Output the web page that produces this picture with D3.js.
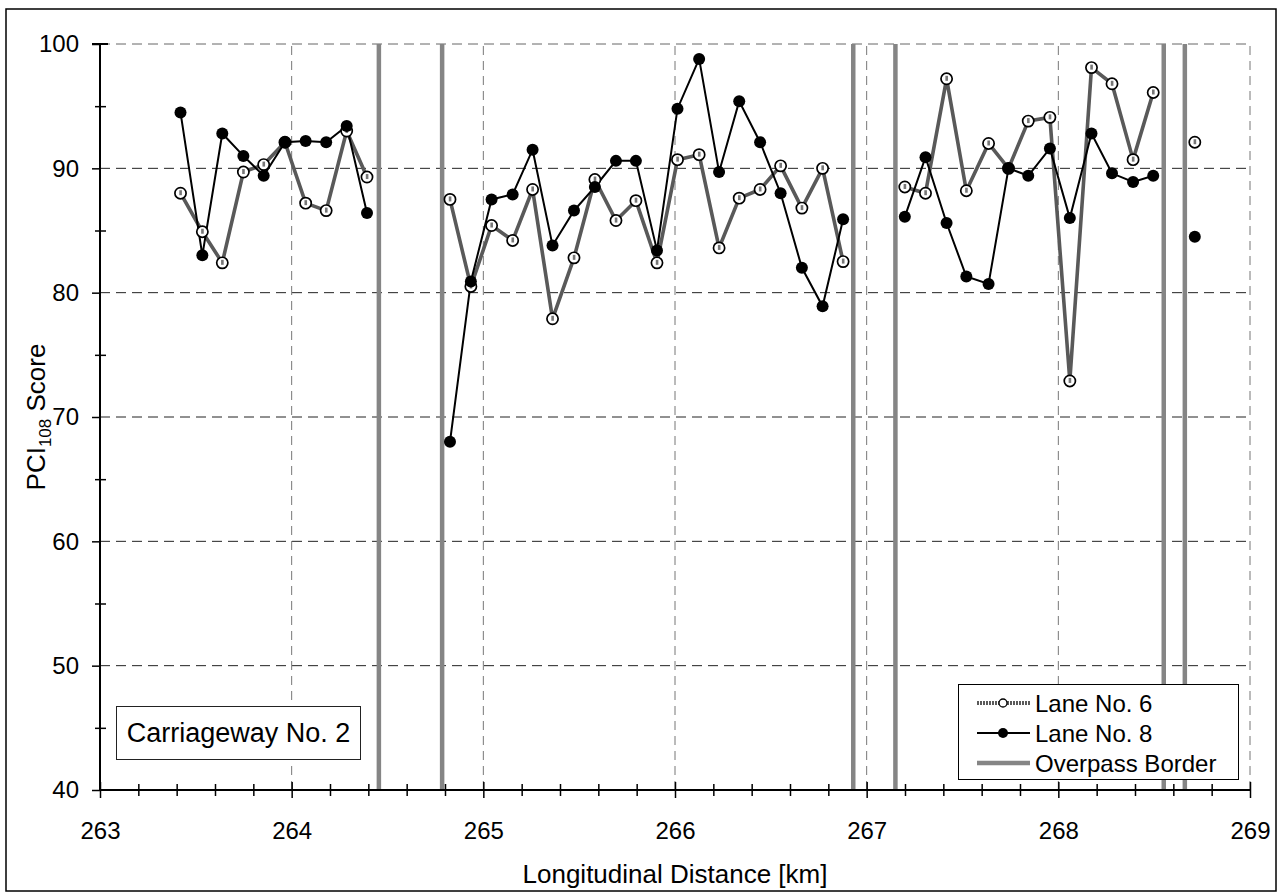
<!DOCTYPE html>
<html>
<head>
<meta charset="utf-8">
<script src="https://cdn.jsdelivr.net/npm/d3@7"></script>
<style>
  body { margin: 0; background: #fff; }
  text { font-family: "Liberation Sans", Arial, sans-serif; fill: #000; }
</style>
</head>
<body>
<svg id="chart" width="1287" height="894"></svg>
<script>
// Survey stations along the carriageway [km]
const km = [
  263.420, 263.534, 263.638, 263.748, 263.854, 263.965, 264.073, 264.180, 264.287, 264.393,
  264.826, 264.935, 265.043, 265.153, 265.257, 265.361, 265.473, 265.582, 265.692, 265.796,
  265.906, 266.013, 266.126, 266.230, 266.335, 266.444, 266.551, 266.662, 266.770, 266.877,
  267.199, 267.307, 267.417, 267.520, 267.636, 267.740, 267.843, 267.956, 268.060, 268.173,
  268.280, 268.390, 268.495,
  268.712
];
// PCI108 scores per station
const lane6 = [
  88.0, 84.9, 82.4, 89.7, 90.3, 92.1, 87.2, 86.6, 93.0, 89.3,
  87.5, 80.5, 85.4, 84.2, 88.3, 77.9, 82.8, 89.1, 85.8, 87.4,
  82.4, 90.7, 91.1, 83.6, 87.6, 88.3, 90.2, 86.8, 90.0, 82.5,
  88.5, 88.0, 97.2, 88.2, 92.0, 90.0, 93.8, 94.1, 72.9, 98.1,
  96.8, 90.7, 96.1,
  92.1
];
const lane8 = [
  94.5, 83.0, 92.8, 91.0, 89.4, 92.1, 92.2, 92.1, 93.4, 86.4,
  68.0, 80.9, 87.5, 87.9, 91.5, 83.8, 86.6, 88.5, 90.6, 90.6,
  83.4, 94.8, 98.8, 89.7, 95.4, 92.1, 88.0, 82.0, 78.9, 85.9,
  86.1, 90.9, 85.6, 81.3, 80.7, 90.0, 89.4, 91.6, 86.0, 92.8,
  89.6, 88.9, 89.4,
  84.5
];
// Overpass borders [km]
const overpassKm = [264.455, 264.785, 266.930, 267.150, 268.550, 268.660];

const xTicks = [263, 264, 265, 266, 267, 268, 269];
const yTicks = [40, 50, 60, 70, 80, 90, 100];
const xMinor = d3.range(263, 269.0001, 0.2).map(v => +v.toFixed(1));
const yMinor = [45, 55, 65, 75, 85, 95];

const seriesNames = ["Lane No. 6", "Lane No. 8", "Overpass Border"];
const boxLabel = "Carriageway No. 2";

const svg = d3.select("#chart");
const x = d3.scaleLinear().domain([263, 269]).range([100, 1250]);
const y = d3.scaleLinear().domain([40, 100]).range([790, 44]);

// outer frame
svg.append("rect").attr("x", 6).attr("y", 9).attr("width", 1270).attr("height", 882)
  .attr("fill", "#fff").attr("stroke", "#000").attr("stroke-width", 1.5);

// grid
const grid = svg.append("g");
grid.selectAll(".hg").data(yTicks.filter(v => v > 40)).join("line")
  .attr("x1", x(263)).attr("x2", x(269))
  .attr("y1", d => y(d)).attr("y2", d => y(d))
  .attr("stroke", d => d === 100 ? "#666" : "#222").attr("stroke-width", 1)
  .attr("stroke-dasharray", "10,6");
grid.selectAll(".vg").data(xTicks.filter(v => v > 263)).join("line")
  .attr("y1", y(40)).attr("y2", y(100))
  .attr("x1", d => x(d)).attr("x2", d => x(d))
  .attr("stroke", "#777").attr("stroke-width", 1)
  .attr("stroke-dasharray", "9,6");

// overpass borders
svg.append("g").selectAll("line").data(overpassKm).join("line")
  .attr("x1", d => x(d)).attr("x2", d => x(d))
  .attr("y1", y(100)).attr("y2", y(40))
  .attr("stroke", "#858585").attr("stroke-width", 4.5);

// axes
function styleAxis(g) {
  g.select(".domain").remove();
  g.selectAll(".tick line").attr("stroke", "#000").attr("stroke-width", 1.5);
  g.selectAll(".tick text").attr("font-size", 24)
    .style("font-family", '"Liberation Sans", Arial, sans-serif');
}
const gx = svg.append("g").attr("transform", `translate(0,${y(40)})`);
gx.call(d3.axisBottom(x).tickValues(xTicks).tickSize(8).tickPadding(24).tickFormat(d3.format("d")))
  .call(styleAxis);
svg.append("g").attr("transform", `translate(0,${y(40)})`)
  .call(d3.axisBottom(x).tickValues(xTicks).tickSize(-8).tickFormat(""))
  .call(styleAxis);
svg.append("g").attr("transform", `translate(0,${y(40)})`)
  .call(d3.axisBottom(x).tickValues(xMinor.filter(v => !xTicks.includes(v))).tickSize(6).tickFormat(""))
  .call(styleAxis);
svg.append("g").attr("transform", `translate(0,${y(40)})`)
  .call(d3.axisBottom(x).tickValues(xMinor.filter(v => !xTicks.includes(v))).tickSize(-6).tickFormat(""))
  .call(styleAxis);

const gy = svg.append("g").attr("transform", `translate(${x(263)},0)`);
gy.call(d3.axisLeft(y).tickValues(yTicks).tickSize(8).tickPadding(13).tickFormat(d3.format("d")))
  .call(styleAxis);
svg.append("g").attr("transform", `translate(${x(263)},0)`)
  .call(d3.axisLeft(y).tickValues(yMinor).tickSize(5).tickFormat(""))
  .call(styleAxis);
svg.append("g").attr("transform", `translate(${x(263)},0)`)
  .call(d3.axisLeft(y).tickValues(yMinor).tickSize(-6).tickFormat(""))
  .call(styleAxis);

svg.append("line").attr("x1", x(263)).attr("x2", x(263)).attr("y1", y(100)).attr("y2", y(40))
  .attr("stroke", "#000").attr("stroke-width", 2);
svg.append("line").attr("x1", x(263) - 8).attr("x2", x(263) + 8).attr("y1", y(100)).attr("y2", y(100))
  .attr("stroke", "#000").attr("stroke-width", 2);
svg.append("line").attr("x1", x(263)).attr("x2", x(269)).attr("y1", y(40)).attr("y2", y(40))
  .attr("stroke", "#000").attr("stroke-width", 2);

// axis titles
svg.append("text").attr("x", (x(263) + x(269)) / 2).attr("y", 883)
  .attr("text-anchor", "middle").attr("font-size", 26).text("Longitudinal Distance [km]");
const yt = svg.append("text")
  .attr("transform", `translate(45,${(y(40) + y(100)) / 2}) rotate(-90)`)
  .attr("text-anchor", "middle").attr("font-size", 26);
yt.append("tspan").text("PCI");
yt.append("tspan").attr("font-size", 17).attr("dy", 6).text("108");
yt.append("tspan").attr("dy", -6).text(" Score");

// series: stations split into runs wherever a gap exceeds one survey step
const pts = vals => km.map((k, i) => ({ k, v: vals[i] }));
function segments(points) {
  const out = [];
  let cur = [];
  points.forEach((p, i) => {
    if (i > 0 && p.k - points[i - 1].k > 0.15) { out.push(cur); cur = []; }
    cur.push(p);
  });
  out.push(cur);
  return out;
}
const line = d3.line().x(d => x(d.k)).y(d => y(d.v));

const p6 = pts(lane6), p8 = pts(lane8);

const g6 = svg.append("g");
g6.selectAll("path").data(segments(p6).filter(s => s.length > 1)).join("path")
  .attr("d", line).attr("fill", "none").attr("stroke", "#595959").attr("stroke-width", 3.6)
  .attr("stroke-linejoin", "round");

const g8 = svg.append("g");
g8.selectAll("path").data(segments(p8).filter(s => s.length > 1)).join("path")
  .attr("d", line).attr("fill", "none").attr("stroke", "#000").attr("stroke-width", 2);

const m6 = svg.append("g");
m6.selectAll("circle").data(p6).join("circle")
  .attr("cx", d => x(d.k)).attr("cy", d => y(d.v)).attr("r", 5.6)
  .attr("fill", "#fff").attr("stroke", "#000").attr("stroke-width", 1.7);
m6.selectAll("rect").data(p6).join("rect")
  .attr("x", d => x(d.k) - 1.2).attr("y", d => y(d.v) - 3).attr("width", 2.6).attr("height", 5)
  .attr("fill", "#777");

svg.append("g").selectAll("circle").data(p8).join("circle")
  .attr("cx", d => x(d.k)).attr("cy", d => y(d.v)).attr("r", 6)
  .attr("fill", "#000");

// annotation box
svg.append("rect").attr("x", 116.5).attr("y", 706.5).attr("width", 244).attr("height", 53)
  .attr("fill", "#fff").attr("stroke", "#222").attr("stroke-width", 1);
svg.append("text").attr("x", 238.5).attr("y", 733).attr("dy", "0.35em")
  .attr("text-anchor", "middle").attr("font-size", 27).text(boxLabel);

// legend
const lg = svg.append("g");
lg.append("rect").attr("x", 958.5).attr("y", 684.5).attr("width", 280).attr("height", 95)
  .attr("fill", "#fff").attr("stroke", "#000").attr("stroke-width", 1);
const rowY = [703, 733, 763];
const sx1 = 977, sx2 = 1030, sm = 1003;
lg.append("line").attr("x1", sx1).attr("x2", sx2).attr("y1", rowY[0]).attr("y2", rowY[0])
  .attr("stroke", "#5a5a5a").attr("stroke-width", 4).attr("stroke-dasharray", "2,1");
lg.append("circle").attr("cx", sm).attr("cy", rowY[0]).attr("r", 4)
  .attr("fill", "#fff").attr("stroke", "#000").attr("stroke-width", 1.3);
lg.append("line").attr("x1", sx1).attr("x2", sx2).attr("y1", rowY[1]).attr("y2", rowY[1])
  .attr("stroke", "#000").attr("stroke-width", 2);
lg.append("circle").attr("cx", sm).attr("cy", rowY[1]).attr("r", 5).attr("fill", "#000");
lg.append("line").attr("x1", sx1).attr("x2", sx2).attr("y1", rowY[2]).attr("y2", rowY[2])
  .attr("stroke", "#858585").attr("stroke-width", 4.5);
lg.selectAll("text").data(seriesNames).join("text")
  .attr("x", 1035).attr("y", (d, i) => rowY[i]).attr("dy", "0.36em")
  .attr("font-size", 24).text(d => d);
</script>
</body>
</html>
